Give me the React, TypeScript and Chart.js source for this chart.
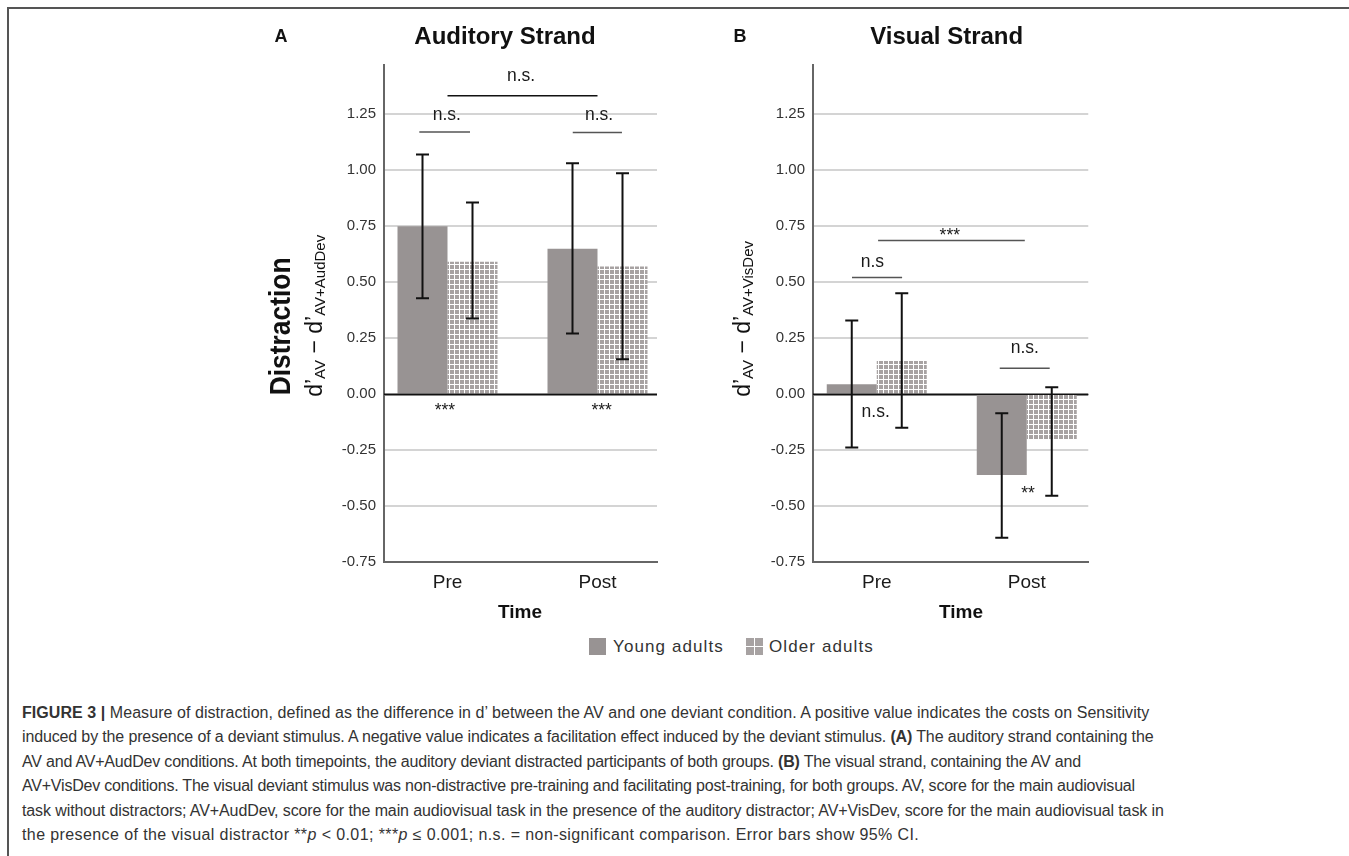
import React, { useEffect, useRef } from 'react';
import { Chart, registerables } from 'chart.js';

Chart.register(...registerables);

const FONT = "'Liberation Sans', Arial, Helvetica, sans-serif";

// ---------- data ----------
const categories = ['Pre', 'Post'];
const seriesNames = ['Young adults', 'Older adults'];

// Panel A – auditory strand
const audYoung = [0.75, 0.65];
const audYoungLow = [0.429, 0.271];
const audYoungHigh = [1.07, 1.031];
const audOlder = [0.592, 0.57];
const audOlderLow = [0.338, 0.156];
const audOlderHigh = [0.856, 0.987];

// Panel B – visual strand
const visYoung = [0.045, -0.36];
const visYoungLow = [-0.238, -0.64];
const visYoungHigh = [0.329, -0.085];
const visOlder = [0.149, -0.204];
const visOlderLow = [-0.149, -0.453];
const visOlderHigh = [0.451, 0.031];

const yMin = -0.75;
const yMax = 1.47;
const yStep = 0.25;

// significance annotations (data coordinates)
const audBrackets = [
  { x1: 1, x2: 2, y: 1.333, dark: true },
  { x1: 0.812, x2: 1.15, y: 1.171, dark: false },
  { x1: 1.835, x2: 2.163, y: 1.169, dark: false },
];
const audMarks = [
  { x: 1.49, y: 1.418, text: 'n.s.' },
  { x: 0.995, y: 1.248, text: 'n.s.' },
  { x: 2.01, y: 1.248, text: 'n.s.' },
  { x: 0.983, y: -0.0746, text: '***' },
  { x: 2.028, y: -0.0746, text: '***' },
];
const visBrackets = [
  { x1: 1.009, x2: 1.987, y: 0.686, dark: false },
  { x1: 0.835, x2: 1.169, y: 0.521, dark: false },
  { x1: 1.82, x2: 2.153, y: 0.116, dark: false },
];
const visMarks = [
  { x: 1.487, y: 0.704, text: '***' },
  { x: 0.971, y: 0.589, text: 'n.s' },
  { x: 0.993, y: -0.078, text: 'n.s.' },
  { x: 1.987, y: 0.208, text: 'n.s.' },
  { x: 2.009, y: -0.448, text: '**' },
];

// ---------- style ----------
const YOUNG_COLOR = '#989393';
const OLDER_GRAY = '#a7a2a2';
const CANVAS_W = 440;
const CANVAS_H = 610;
const PAD_TOP = 45;
const Y_AXIS_W = 144;
const AREA_H = (yMax - yMin) * 224;
const X_AXIS_H = CANVAS_H - PAD_TOP - AREA_H;

type Bracket = { x1: number; x2: number; y: number; dark: boolean };
type Mark = { x: number; y: number; text: string };

interface PanelSpec {
  letter: string;
  title: string;
  letterDx: number;
  titleDx: number;
  timeDx: number;
  distraction: boolean;
  subText: string;
  subDx: number;
  young: number[];
  youngLow: number[];
  youngHigh: number[];
  older: number[];
  olderLow: number[];
  olderHigh: number[];
  brackets: Bracket[];
  marks: Mark[];
  xMin: number;
  xMax: number;
  rightPad: number;
}

function drawRuns(ctx: CanvasRenderingContext2D, x: number, y: number, runs: { text: string; font: string; dy: number }[], squeeze = 1) {
  ctx.save();
  ctx.translate(x, y);
  ctx.rotate(-Math.PI / 2);
  ctx.scale(squeeze, 1);
  ctx.textAlign = 'left';
  ctx.textBaseline = 'alphabetic';
  ctx.fillStyle = '#111';
  let cx = 0;
  for (const r of runs) {
    ctx.font = r.font;
    ctx.fillText(r.text, cx, r.dy);
    cx += ctx.measureText(r.text).width;
  }
  ctx.restore();
}

function makeExtras(spec: PanelSpec) {
  return {
    id: 'extras',
    afterDatasetsDraw(chart: any) {
      const { ctx, chartArea: a } = chart;
      const ys = chart.scales.y;
      const y0 = ys.getPixelForValue(0);
      ctx.save();
      ctx.strokeStyle = '#111';
      ctx.lineWidth = 1.5;
      ctx.beginPath();
      ctx.moveTo(a.left, y0);
      ctx.lineTo(a.right, y0);
      ctx.stroke();
      const lows = [spec.youngLow, spec.olderLow];
      const highs = [spec.youngHigh, spec.olderHigh];
      ctx.lineWidth = 2;
      chart.data.datasets.forEach((_: any, i: number) => {
        const meta = chart.getDatasetMeta(i);
        meta.data.forEach((bar: any, j: number) => {
          const x = bar.x;
          const yl = ys.getPixelForValue(lows[i][j]);
          const yh = ys.getPixelForValue(highs[i][j]);
          ctx.beginPath();
          ctx.moveTo(x, yl);
          ctx.lineTo(x, yh);
          ctx.moveTo(x - 6.5, yl);
          ctx.lineTo(x + 6.5, yl);
          ctx.moveTo(x - 6.5, yh);
          ctx.lineTo(x + 6.5, yh);
          ctx.stroke();
        });
      });
      ctx.restore();
    },
    afterDraw(chart: any) {
      const { ctx, chartArea: a } = chart;
      const xs = chart.scales.x;
      const ys = chart.scales.y;
      const y0 = ys.getPixelForValue(0);
      ctx.save();
      ctx.fillStyle = '#111';
      ctx.textAlign = 'center';
      ctx.textBaseline = 'middle';
      // panel letter and title
      ctx.font = `bold 18px ${FONT}`;
      ctx.fillText(spec.letter, a.left + spec.letterDx, a.top - 28);
      ctx.font = `bold 24px ${FONT}`;
      ctx.fillText(spec.title, a.left + spec.titleDx, a.top - 28);
      // x axis title
      ctx.font = `bold 19px ${FONT}`;
      ctx.fillText('Time', a.left + spec.timeDx, a.bottom + 50);
      // significance brackets
      ctx.lineWidth = 1.5;
      spec.brackets.forEach((b) => {
        ctx.strokeStyle = b.dark ? '#111' : '#555';
        const yy = ys.getPixelForValue(b.y);
        ctx.beginPath();
        ctx.moveTo(xs.getPixelForValue(b.x1), yy);
        ctx.lineTo(xs.getPixelForValue(b.x2), yy);
        ctx.stroke();
      });
      ctx.font = `17.5px ${FONT}`;
      ctx.fillStyle = '#1a1a1a';
      spec.marks.forEach((m) => {
        ctx.fillText(m.text, xs.getPixelForValue(m.x), ys.getPixelForValue(m.y));
      });
      ctx.restore();
      // rotated y-axis titles
      if (spec.distraction) {
        drawRuns(ctx, a.left - 94, y0 + 1, [{ text: 'Distraction', font: `bold 29px ${FONT}`, dy: 0 }], 0.91);
      }
      drawRuns(ctx, a.left + spec.subDx, y0 + 2.5, [
        { text: 'd\u2019', font: `23px ${FONT}`, dy: 0 },
        { text: 'AV', font: `15px ${FONT}`, dy: 3 },
        { text: ' \u2212 d\u2019', font: `23px ${FONT}`, dy: 0 },
        { text: spec.subText, font: `15px ${FONT}`, dy: 3 },
      ]);
    },
  };
}

function StrandPanel({ spec, left, top }: { spec: PanelSpec; left: number; top: number }) {
  const ref = useRef<HTMLCanvasElement>(null);
  useEffect(() => {
    const canvas = ref.current!;
    const tile = document.createElement('canvas');
    tile.width = 5;
    tile.height = 5;
    const tctx = tile.getContext('2d')!;
    tctx.fillStyle = '#ffffff';
    tctx.fillRect(0, 0, 5, 5);
    tctx.fillStyle = OLDER_GRAY;
    tctx.fillRect(0, 0, 4, 4);
    const pattern = canvas.getContext('2d')!.createPattern(tile, 'repeat')!;

    const chart = new Chart(canvas, {
      type: 'bar',
      data: {
        datasets: [
          {
            label: seriesNames[0],
            data: categories.map((_, i) => ({ x: i + 1, y: spec.young[i] })),
            backgroundColor: YOUNG_COLOR,
            borderWidth: 0,
            categoryPercentage: 2 / 3,
            barPercentage: 1,
          },
          {
            label: seriesNames[1],
            data: categories.map((_, i) => ({ x: i + 1, y: spec.older[i] })),
            backgroundColor: pattern,
            borderWidth: 0,
            categoryPercentage: 2 / 3,
            barPercentage: 1,
          },
        ] as any,
      },
      options: {
        responsive: false,
        animation: false,
        layout: { padding: { top: PAD_TOP, left: 0, right: spec.rightPad, bottom: 0 } },
        plugins: { legend: { display: false }, tooltip: { enabled: false }, title: { display: false } },
        scales: {
          x: {
            type: 'linear',
            min: spec.xMin,
            max: spec.xMax,
            offset: false,
            grid: { display: false, drawTicks: false },
            border: { display: true, color: '#666', width: 2 },
            afterBuildTicks: (s: any) => {
              s.ticks = categories.map((_, i) => ({ value: i + 1 }));
            },
            afterFit: (s: any) => {
              s.height = X_AXIS_H;
            },
            ticks: {
              autoSkip: false,
              maxRotation: 0,
              padding: 9,
              color: '#1a1a1a',
              font: { family: FONT, size: 19 },
              callback: (v: any) => categories[Math.round(Number(v)) - 1] ?? '',
            },
          },
          y: {
            min: yMin,
            max: yMax,
            grid: {
              drawTicks: false,
              color: (c: any) => (Math.abs(c.tick?.value ?? 1) < 1e-9 ? '#111' : '#d4d4d4'),
              lineWidth: (c: any) => (Math.abs(c.tick?.value ?? 1) < 1e-9 ? 1.5 : 2),
            },
            border: { display: true, color: '#666', width: 2 },
            afterFit: (s: any) => {
              s.width = Y_AXIS_W;
            },
            ticks: {
              stepSize: yStep,
              includeBounds: false,
              padding: 8,
              color: '#333',
              font: { family: FONT, size: 15 },
              callback: (v: any) => Number(v).toFixed(2),
            },
          },
        },
      } as any,
      plugins: [makeExtras(spec)],
    });
    return () => chart.destroy();
  }, [spec]);
  return (
    <canvas
      ref={ref}
      width={CANVAS_W}
      height={CANVAS_H}
      style={{ position: 'absolute', left, top, width: CANVAS_W, height: CANVAS_H }}
    />
  );
}

const specA: PanelSpec = {
  letter: 'A',
  title: 'Auditory Strand',
  letterDx: -103,
  titleDx: 121,
  timeDx: 136,
  distraction: true,
  subText: 'AV+AudDev',
  subDx: -62,
  young: audYoung,
  youngLow: audYoungLow,
  youngHigh: audYoungHigh,
  older: audOlder,
  olderLow: audOlderLow,
  olderHigh: audOlderHigh,
  brackets: audBrackets,
  marks: audMarks,
  xMin: 1 - 63.5 / 150,
  xMax: 2 + 59.5 / 150,
  rightPad: CANVAS_W - Y_AXIS_W - 273,
};

const specB: PanelSpec = {
  letter: 'B',
  title: 'Visual Strand',
  letterDx: -73,
  titleDx: 133.7,
  timeDx: 148,
  distraction: false,
  subText: 'AV+VisDev',
  subDx: -63,
  young: visYoung,
  youngLow: visYoungLow,
  youngHigh: visYoungHigh,
  older: visOlder,
  olderLow: visOlderLow,
  olderHigh: visOlderHigh,
  brackets: visBrackets,
  marks: visMarks,
  xMin: 0.575,
  xMax: 2.41,
  rightPad: CANVAS_W - Y_AXIS_W - 275.25,
};

const capLines: React.ReactNode[] = [
  <>
    <b>FIGURE 3 |</b> Measure of distraction, defined as the difference in d’ between the AV and one deviant condition. A positive value indicates the costs on Sensitivity
  </>,
  <>
    induced by the presence of a deviant stimulus. A negative value indicates a facilitation effect induced by the deviant stimulus. <b>(A)</b> The auditory strand containing the
  </>,
  <>
    AV and AV+AudDev conditions. At both timepoints, the auditory deviant distracted participants of both groups. <b>(B)</b> The visual strand, containing the AV and
  </>,
  <>
    AV+VisDev conditions. The visual deviant stimulus was non-distractive pre-training and facilitating post-training, for both groups. AV, score for the main audiovisual
  </>,
  <>
    task without distractors; AV+AudDev, score for the main audiovisual task in the presence of the auditory distractor; AV+VisDev, score for the main audiovisual task in
  </>,
  <>
    the presence of the visual distractor **<i>p</i> &lt; 0.01; ***<i>p</i> ≤ 0.001; n.s. = non-significant comparison. Error bars show 95% CI.
  </>,
];
const capSpacing = [0.06, -0.14, -0.2, -0.21, -0.11, 0.4];

export default function App() {
  const legendText: React.CSSProperties = {
    position: 'absolute',
    top: 635,
    height: 24,
    lineHeight: '24px',
    fontFamily: FONT,
    fontSize: 17,
    letterSpacing: '1.1px',
    color: '#333',
    whiteSpace: 'nowrap',
  };
  return (
    <div style={{ position: 'fixed', left: 0, top: 0, width: 1349, height: 856, background: '#fff', overflow: 'hidden' }}>
      <div
        style={{
          position: 'absolute',
          left: 7,
          top: 7,
          width: 1345,
          height: 852,
          borderTop: '2px solid #555',
          borderLeft: '2px solid #555',
        }}
      />
      <StrandPanel spec={specA} left={240} top={20} />
      <StrandPanel spec={specB} left={669} top={20} />

      <div style={{ position: 'absolute', left: 589, top: 638, width: 17, height: 17, background: YOUNG_COLOR }} />
      <div style={{ ...legendText, left: 613 }}>{seriesNames[0]}</div>
      <div
        style={{
          position: 'absolute',
          left: 746,
          top: 638,
          width: 17,
          height: 17,
          display: 'grid',
          gridTemplateColumns: '8px 8px',
          gridTemplateRows: '8px 8px',
          gap: '1px',
        }}
      >
        {[0, 1, 2, 3].map((k) => (
          <div key={k} style={{ background: OLDER_GRAY }} />
        ))}
      </div>
      <div style={{ ...legendText, left: 769 }}>{seriesNames[1]}</div>

      {capLines.map((node, i) => (
        <div
          key={i}
          style={{
            position: 'absolute',
            left: 22,
            top: 701 + i * 24.4,
            height: 24,
            lineHeight: '24px',
            whiteSpace: 'nowrap',
            fontFamily: FONT,
            fontSize: 16,
            letterSpacing: `${capSpacing[i]}px`,
            color: '#333',
          }}
        >
          {node}
        </div>
      ))}
    </div>
  );
}
